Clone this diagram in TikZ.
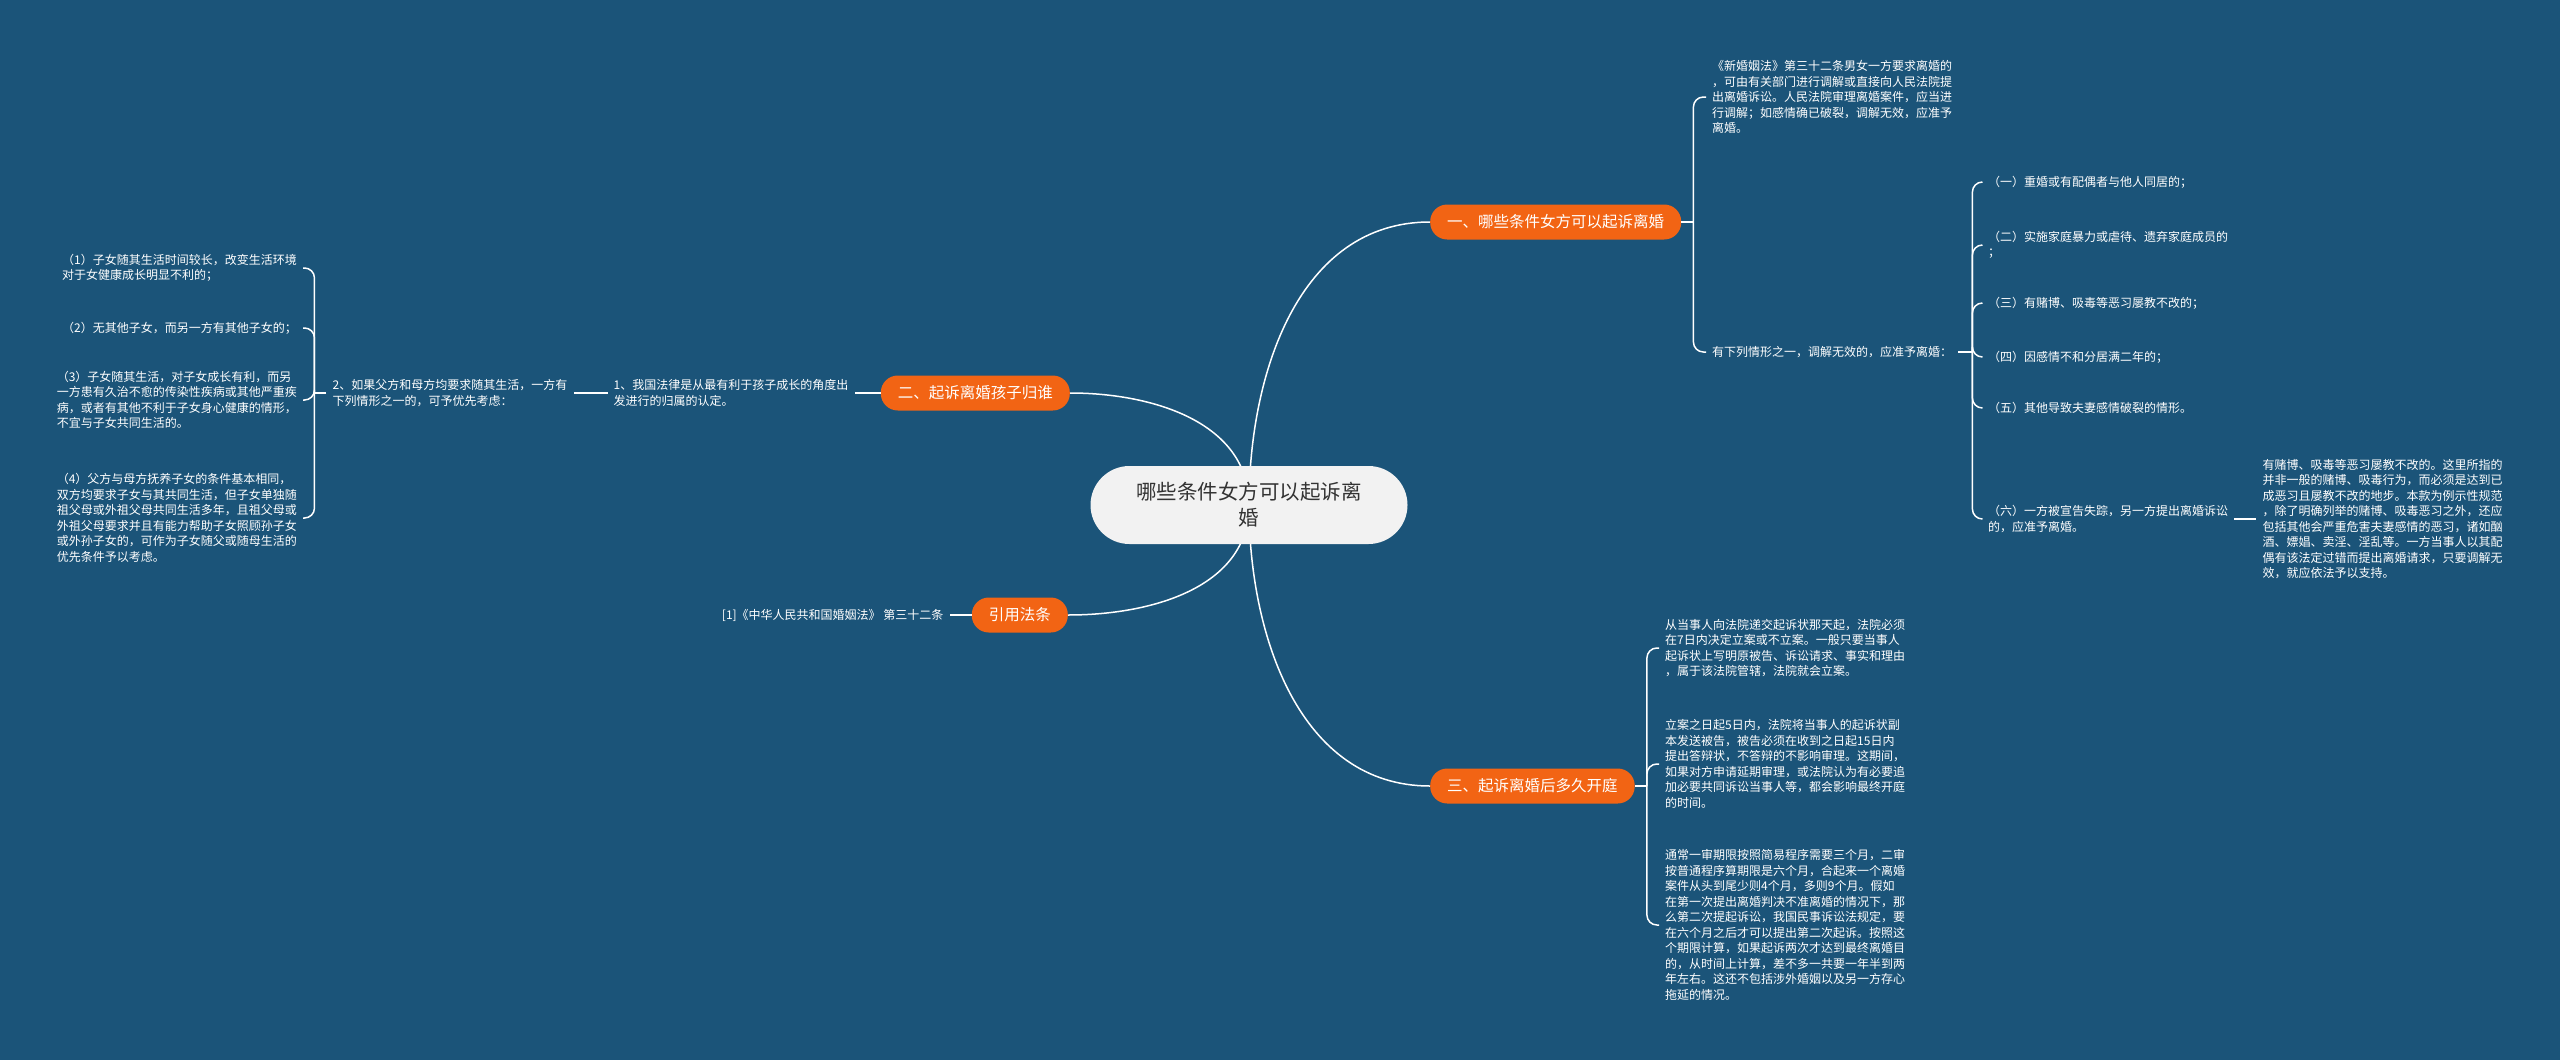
\documentclass[tikz,border=0pt]{standalone}
\usepackage{fontspec}
\setmainfont{Noto Sans CJK SC}
\usetikzlibrary{positioning}
\definecolor{bgblue}{HTML}{1B5479}
\definecolor{topicorange}{HTML}{F26414}
\definecolor{rootgray}{HTML}{F2F2F2}
\definecolor{roottext}{HTML}{333333}
\pgfdeclarelayer{back}
\pgfsetlayers{back,main}
\tikzset{
rootbox/.style={rectangle,rounded corners=39pt,minimum height=78pt,minimum width=317pt,fill=rootgray,text=roottext,align=center,font=\fontsize{20.5}{26}\selectfont}
}
\tikzset{
topicbox/.style={rectangle,rounded corners=17pt,minimum height=35pt,inner xsep=17pt,fill=topicorange,text=white,font=\fontsize{15.5}{18}\selectfont}
}
\tikzset{
leafbox/.style={rectangle,inner xsep=6pt,inner ysep=2pt,align=left,text=white,font=\fontsize{12}{15.5}\selectfont}
}
\tikzset{
linkline/.style={draw=white,line width=1.5pt}
}
\tikzset{
bracketline/.style={draw=white,line width=1.5pt,rounded corners=10pt}
}

\begin{document}
\begin{tikzpicture}[x=1pt,y=-1pt]
\useasboundingbox (0,0) rectangle (2560,1060);

\node[rootbox] (R) at (1249,505) {哪些条件女方可以起诉离\\婚};

\node[topicbox,anchor=west] (T1) at (1430,222) {一、哪些条件女方可以起诉离婚};
\node[topicbox,anchor=east] (T2) at (1070,393) {二、起诉离婚孩子归谁};
\node[topicbox,anchor=west] (T3) at (1430,786) {三、起诉离婚后多久开庭};
\node[topicbox,anchor=east] (T4) at (1068,615) {引用法条};
%------------------------------------------------------------------------------------------------------------%
\coordinate (J1) at ([xshift=12pt]T1.east);
\node[leafbox,anchor=west] (L11) at (1706,97) {《新婚姻法》第三十二条男女一方要求离婚的\\，可由有关部门进行调解或直接向人民法院提\\出离婚诉讼。人民法院审理离婚案件，应当进\\行调解；如感情确已破裂，调解无效，应准予\\离婚。};
\node[leafbox,anchor=west] (L12) at (1706,352) {有下列情形之一，调解无效的，应准予离婚：};
\draw[linkline] (T1.east) -- (J1);
\draw[bracketline] (J1) |- (L11.west);
\draw[bracketline] (J1) |- (L12.west);

\coordinate (J12) at ([xshift=14pt]L12.east);
\draw[linkline] (L12.east) -- (J12);
\foreach \n/\y/\t in {1/182/{（一）重婚或有配偶者与他人同居的；},2/245/{（二）实施家庭暴力或虐待、遗弃家庭成员的\\；},3/303/{（三）有赌博、吸毒等恶习屡教不改的；},4/357/{（四）因感情不和分居满二年的；},5/408/{（五）其他导致夫妻感情破裂的情形。},6/519/{（六）一方被宣告失踪，另一方提出离婚诉讼\\的，应准予离婚。}}
{
\node[leafbox,anchor=west] (K\n) at (1982,\y) {\t};
\draw[bracketline] (J12) |- (K\n.west);
}
\node[leafbox,right=22pt of K6] (D6) {有赌博、吸毒等恶习屡教不改的。这里所指的\\并非一般的赌博、吸毒行为，而必须是达到已\\成恶习且屡教不改的地步。本款为例示性规范\\，除了明确列举的赌博、吸毒恶习之外，还应\\包括其他会严重危害夫妻感情的恶习，诸如酗\\酒、嫖娼、卖淫、淫乱等。一方当事人以其配\\偶有该法定过错而提出离婚请求，只要调解无\\效，就应依法予以支持。};
\draw[linkline] (K6.east) -- (D6.west);
%------------------------------------------------------------------------------------------------------------%
\node[leafbox,left=26pt of T2] (E1) {1、我国法律是从最有利于孩子成长的角度出\\发进行的归属的认定。};
\draw[linkline] (T2.west) -- (E1.east);
\node[leafbox,left=34pt of E1] (E2) {2、如果父方和母方均要求随其生活，一方有\\下列情形之一的，可予优先考虑：};
\draw[linkline] (E1.west) -- (E2.east);
\coordinate (J2) at ([xshift=-12pt]E2.west);
\draw[linkline] (E2.west) -- (J2);
\node[leafbox,anchor=east] (F1) at (303,268) {（1）子女随其生活时间较长，改变生活环境\\对于女健康成长明显不利的；};
\node[leafbox,anchor=east] (F2) at (303,328) {（2）无其他子女，而另一方有其他子女的；};
\node[leafbox,anchor=east] (F3) at (303,400) {（3）子女随其生活，对子女成长有利，而另\\一方患有久治不愈的传染性疾病或其他严重疾\\病，或者有其他不利于子女身心健康的情形，\\不宜与子女共同生活的。};
\node[leafbox,anchor=east] (F4) at (303,518) {（4）父方与母方抚养子女的条件基本相同，\\双方均要求子女与其共同生活，但子女单独随\\祖父母或外祖父母共同生活多年，且祖父母或\\外祖父母要求并且有能力帮助子女照顾孙子女\\或外孙子女的，可作为子女随父或随母生活的\\优先条件予以考虑。};
\foreach \n in {1,2,3,4}
{
\draw[bracketline] (J2) |- (F\n.east);
}
%------------------------------------------------------------------------------------------------------------%
\node[leafbox,left=22pt of T4] (G1) {[1]《中华人民共和国婚姻法》 第三十二条};
\draw[linkline] (T4.west) -- (G1.east);
%------------------------------------------------------------------------------------------------------------%
\coordinate (J3) at ([xshift=12pt]T3.east);
\draw[linkline] (T3.east) -- (J3);
\node[leafbox,anchor=west] (M1) at (1659,648) {从当事人向法院递交起诉状那天起，法院必须\\在7日内决定立案或不立案。一般只要当事人\\起诉状上写明原被告、诉讼请求、事实和理由\\，属于该法院管辖，法院就会立案。};
\node[leafbox,anchor=west] (M2) at (1659,764) {立案之日起5日内，法院将当事人的起诉状副\\本发送被告，被告必须在收到之日起15日内\\提出答辩状，不答辩的不影响审理。这期间，\\如果对方申请延期审理，或法院认为有必要追\\加必要共同诉讼当事人等，都会影响最终开庭\\的时间。};
\node[leafbox,anchor=west] (M3) at (1659,925) {通常一审期限按照简易程序需要三个月，二审\\按普通程序算期限是六个月，合起来一个离婚\\案件从头到尾少则4个月，多则9个月。假如\\在第一次提出离婚判决不准离婚的情况下，那\\么第二次提起诉讼，我国民事诉讼法规定，要\\在六个月之后才可以提出第二次起诉。按照这\\个期限计算，如果起诉两次才达到最终离婚目\\的，从时间上计算，差不多一共要一年半到两\\年左右。这还不包括涉外婚姻以及另一方存心\\拖延的情况。};
\foreach \n in {1,2,3}
{
\draw[bracketline] (J3) |- (M\n.west);
}
%------------------------------------------------------------------------------------------------------------%
\begin{pgfonlayer}{back}
\fill[bgblue] (0,0) rectangle (2560,1060);
\draw[linkline] (R.center) to[out=90,in=180] (T1.west);
\draw[linkline] (R.center) to[out=90,in=0] (T2.east);
\draw[linkline] (R.center) to[out=-90,in=180] (T3.west);
\draw[linkline] (R.center) to[out=-90,in=0] (T4.east);
\end{pgfonlayer}

\end{tikzpicture}
\end{document}
